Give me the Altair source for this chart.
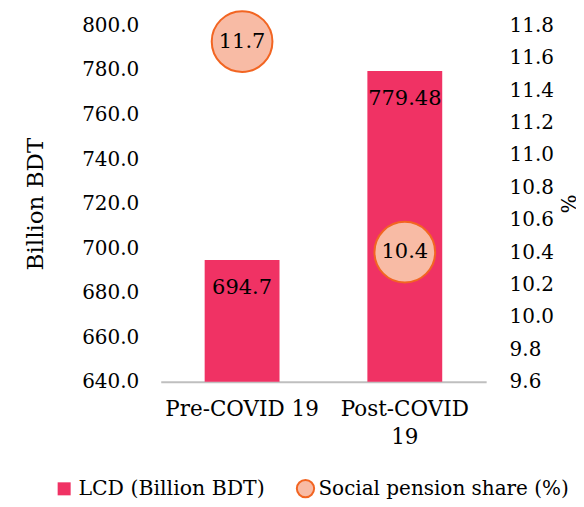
import altair as alt
import pandas as pd

categories = ["Pre-COVID 19", "Post-COVID 19"]
lcd_values = [694.7, 779.48]
lcd_labels = ["694.7", "779.48"]
pension_share = [11.7, 10.4]
pension_labels = ["11.7", "10.4"]
left_ticks = [640, 660, 680, 700, 720, 740, 760, 780, 800]
right_ticks = [9.6, 9.8, 10.0, 10.2, 10.4, 10.6, 10.8, 11.0, 11.2, 11.4, 11.6, 11.8]

df = pd.DataFrame({
    "cat": categories,
    "lcd": lcd_values,
    "lcd_label": lcd_labels,
    "share": pension_share,
    "share_label": pension_labels,
    "s1": ["LCD (Billion BDT)"] * 2,
    "s2": ["Social pension share (%)"] * 2,
})

FONT = "DejaVu Serif"

x_axis = alt.Axis(labelAngle=0, labelFontSize=21.5, labelFont=FONT, labelColor="black",
                  ticks=False, domainColor="#BFBFBF", domainWidth=2, labelPadding=17,
                  labelExpr="datum.label == 'Post-COVID 19' ? ['Post-COVID', '19'] : datum.label",
                  labelLineHeight=28, labelLimit=300)
x_scale = alt.Scale(paddingInner=0.54, paddingOuter=0.27)

y_left_scale = alt.Scale(domain=[640, 800], nice=False, zero=False)
y_right_scale = alt.Scale(domain=[9.6, 11.8], nice=False, zero=False)

left_axis = alt.Axis(values=left_ticks, format=".1f", grid=False, domain=False, ticks=False,
                     labelFontSize=20, labelFont=FONT, labelColor="black", labelPadding=22,
                     labelOverlap=False,
                     titleFontSize=23, titleFont=FONT, titleFontWeight="normal", titleColor="black",
                     titlePadding=34)
right_axis = alt.Axis(orient="right", values=right_ticks, format=".1f", grid=False, domain=False,
                      ticks=False, labelFontSize=20, labelFont=FONT, labelColor="black",
                      labelOverlap=False, labelFlush=False,
                      labelPadding=23, titleFontSize=20, titleFont=FONT, titleFontWeight="normal",
                      titleColor="black", titlePadding=3)

bars = alt.Chart(df).mark_bar(color="#F03264").encode(
    x=alt.X("cat:N", sort=categories, title=None, scale=x_scale, axis=x_axis),
    y=alt.Y("lcd:Q", scale=y_left_scale, title="Billion BDT", axis=left_axis),
    y2=alt.Y2Datum(640),
    color=alt.Color("s1:N", scale=alt.Scale(domain=["LCD (Billion BDT)"], range=["#F03264"]),
                    legend=alt.Legend(orient="none", legendX=-107, legendY=454, title=None,
                                      symbolType="square", symbolSize=170, labelFontSize=20.5,
                                      labelFont=FONT, labelColor="black", labelOffset=4,
                                      labelLimit=400)),
)
bar_text = alt.Chart(df).mark_text(fontSize=21, font=FONT, color="black", baseline="middle", dy=28).encode(
    x=alt.X("cat:N", sort=categories, title=None, scale=x_scale, axis=x_axis),
    y=alt.Y("lcd:Q", scale=y_left_scale, title="Billion BDT", axis=left_axis),
    text="lcd_label:N",
)

points = alt.Chart(df).mark_point(filled=True, size=3700, stroke="#F26522", strokeWidth=2,
                                  opacity=1, fillOpacity=1).encode(
    x=alt.X("cat:N", sort=categories, title=None, scale=x_scale, axis=x_axis),
    y=alt.Y("share:Q", scale=y_right_scale, title="%", axis=right_axis),
    fill=alt.Fill("s2:N", scale=alt.Scale(domain=["Social pension share (%)"], range=["#F8BBA5"]),
                  legend=alt.Legend(orient="none", legendX=135, legendY=454, title=None,
                                    symbolType="circle", symbolSize=300, symbolStrokeColor="#F26522",
                                    symbolStrokeWidth=2, labelFontSize=20, labelFont=FONT,
                                    labelColor="black", labelOffset=3, labelLimit=400)),
)
point_text = alt.Chart(df).mark_text(fontSize=21, font=FONT, color="black", baseline="middle").encode(
    x=alt.X("cat:N", sort=categories, title=None, scale=x_scale, axis=x_axis),
    y=alt.Y("share:Q", scale=y_right_scale, title="%", axis=right_axis),
    text="share_label:N",
)

left = alt.layer(bars, bar_text)
right = alt.layer(points, point_text)

chart = alt.layer(left, right).resolve_scale(y="independent").properties(
    width=326, height=357,
    autosize=alt.AutoSizeParams(type="none"),
    padding={"left": 153, "top": 17, "right": 90, "bottom": 117},
).configure_view(stroke=None)

chart.save("out.html", embed_options={"renderer": "svg", "actions": False})
